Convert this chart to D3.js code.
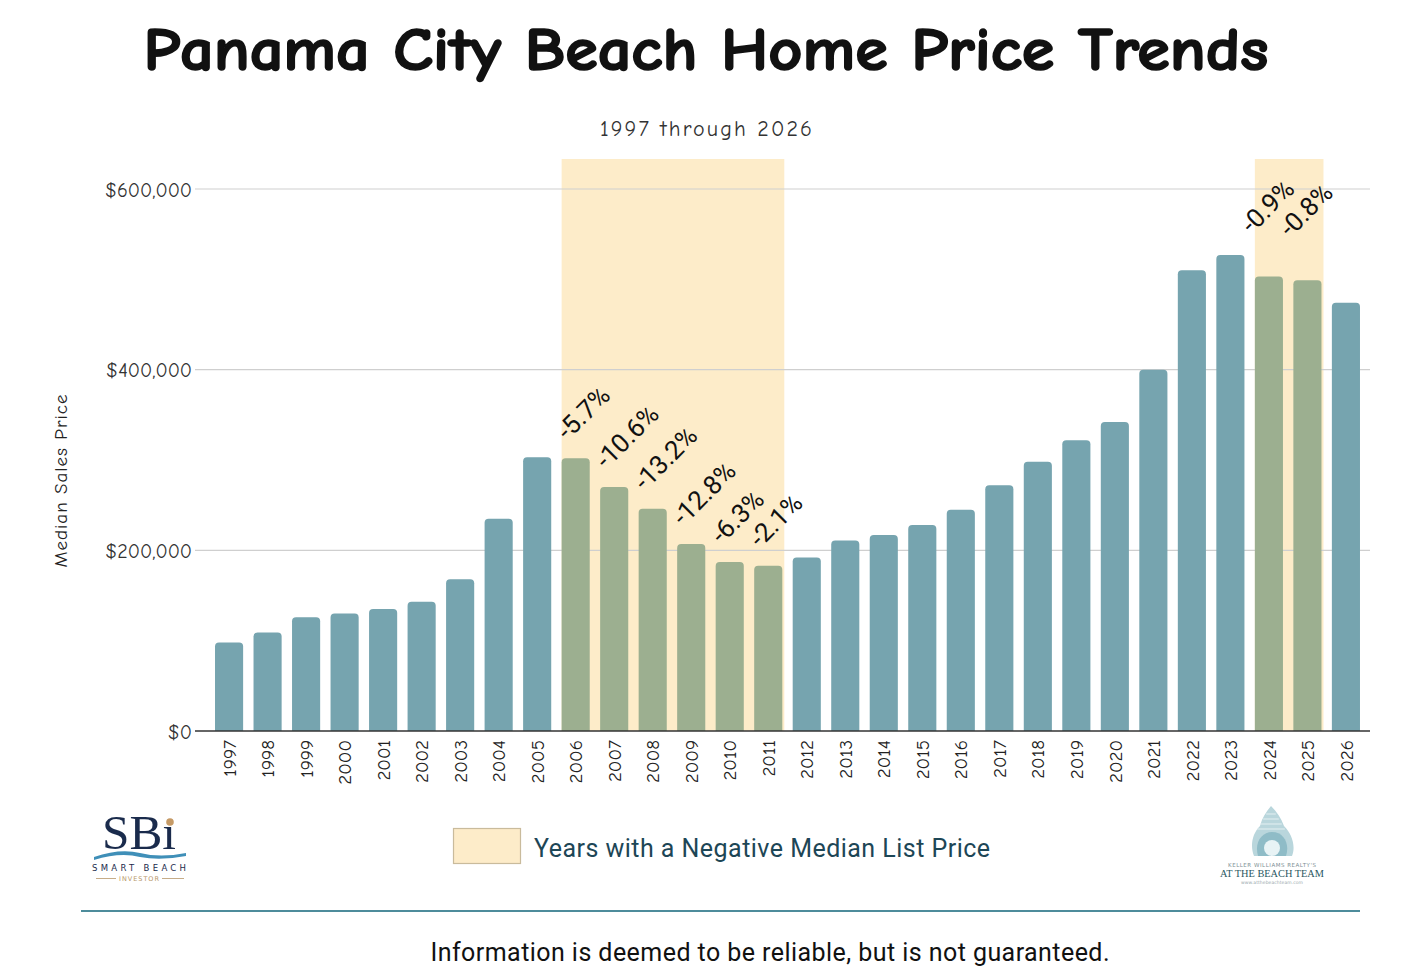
<!DOCTYPE html>
<html>
<head>
<meta charset="utf-8">
<script src="https://cdn.jsdelivr.net/npm/d3@7/dist/d3.min.js"></script>
<style>
  html, body { margin: 0; padding: 0; background: #fff; }
  svg { display: block; }
</style>
</head>
<body>
<svg id="chart" width="1414" height="977"></svg>
<script>
// data
const years = ["1997","1998","1999","2000","2001","2002","2003","2004","2005","2006",
  "2007","2008","2009","2010","2011","2012","2013","2014","2015","2016",
  "2017","2018","2019","2020","2021","2022","2023","2024","2025","2026"];
const prices = [98000,109000,126000,130000,135000,143000,168000,235000,303000,302000,
  270000,246000,207000,187000,183000,192000,211000,217000,228000,245000,
  272000,298000,322000,342000,400000,510000,527000,503000,499000,474000];
const negativeYears = ["2006","2007","2008","2009","2010","2011","2024","2025"];
const changeLabels = ["-5.7%","-10.6%","-13.2%","-12.8%","-6.3%","-2.1%","-0.9%","-0.8%"];
const yTicks = [0, 200000, 400000, 600000];

const svg = d3.select("#chart");
const handFont = "'Comic Sans MS','Comic Neue','DejaVu Sans Condensed','DejaVu Sans',sans-serif";
const tealBar = "#76a4af",
  greenBar = "#9caf90",
  shade = "#fdecc9";

const x = d3.scaleBand().domain(years).range([205, 1370]).paddingInner(0.27).paddingOuter(0.26);
const y = d3.scaleLinear().domain([0, 600000]).range([731, 189]);

// title + subtitle
svg.append("text")
  .attr("x", 706).attr("y", 70)
  .attr("text-anchor", "middle")
  .attr("font-family", handFont)
  .attr("font-weight", "bold")
  .attr("font-size", 60)
  .attr("textLength", 1125)
  .attr("lengthAdjust", "spacingAndGlyphs")
  .attr("fill", "#111")
  .attr("stroke", "#111")
  .attr("stroke-width", 1.6)
  .text("Panama City Beach Home Price Trends");

svg.append("text")
  .attr("x", 706).attr("y", 136)
  .attr("text-anchor", "middle")
  .attr("font-family", handFont)
  .attr("font-size", 22)
  .attr("textLength", 212)
  .attr("fill", "#333")
  .text("1997 through 2026");

// shaded spans for runs of negative years
let spans = [];
negativeYears.forEach(function(yr){
  let i = years.indexOf(yr), last = spans[spans.length - 1];
  if (last && last.end === i - 1) last.end = i;
  else spans.push({start: i, end: i});
});
svg.append("g").selectAll("rect")
  .data(spans)
  .join("rect")
  .attr("x", d => x(years[d.start]))
  .attr("width", d => x(years[d.end]) + x.bandwidth() + 2 - x(years[d.start]))
  .attr("y", 159)
  .attr("height", d => y(0) - 159)
  .attr("fill", shade);

// gridlines + y labels
const grid = svg.append("g");
grid.selectAll("line")
  .data(yTicks.filter(t => t > 0))
  .join("line")
  .attr("x1", 195).attr("x2", 1370)
  .attr("y1", d => y(d)).attr("y2", d => y(d))
  .attr("stroke", "#cfcfcf").attr("stroke-width", 1.2);

const yAxis = svg.append("g")
  .attr("transform", "translate(192,0)")
  .call(d3.axisLeft(y).tickValues(yTicks).tickSize(0).tickPadding(0)
    .tickFormat(d => "$" + d3.format(",")(d)));
yAxis.select(".domain").remove();
yAxis.selectAll("text")
  .attr("font-family", handFont)
  .attr("font-size", 20)
  .attr("fill", "#333")
  .attr("dy", "0.35em");

svg.append("text")
  .attr("transform", "translate(67,481) rotate(-90)")
  .attr("text-anchor", "middle")
  .attr("font-family", handFont)
  .attr("font-size", 19)
  .attr("textLength", 173)
  .attr("fill", "#222")
  .text("Median Sales Price");

// bars with rounded tops
function barPath(d, i){
  let x0 = x(years[i]), w = x.bandwidth(), top = y(d), base = y(0), r = 4;
  return "M" + x0 + "," + base + "V" + (top + r) +
    "Q" + x0 + "," + top + " " + (x0 + r) + "," + top +
    "H" + (x0 + w - r) +
    "Q" + (x0 + w) + "," + top + " " + (x0 + w) + "," + (top + r) +
    "V" + base + "Z";
}
svg.append("g").selectAll("path")
  .data(prices)
  .join("path")
  .attr("d", barPath)
  .attr("fill", (d, i) => negativeYears.includes(years[i]) ? greenBar : tealBar);

// baseline + year labels
svg.append("line")
  .attr("x1", 195).attr("x2", 1370)
  .attr("y1", y(0)).attr("y2", y(0))
  .attr("stroke", "#333").attr("stroke-width", 1.5);

const xAxis = svg.append("g")
  .attr("transform", "translate(0," + y(0) + ")")
  .call(d3.axisBottom(x).tickSize(0).tickPadding(0));
xAxis.select(".domain").remove();
xAxis.selectAll("text")
  .attr("font-family", handFont)
  .attr("font-size", 19)
  .attr("fill", "#222")
  .attr("text-anchor", "end")
  .attr("dy", "0.35em")
  .attr("transform", "translate(0,9) rotate(-90)");

// percent change labels, lifted a bit more over the later run
const labelLift = [17, 42], labelShift = [6, -3];
svg.append("g").selectAll("text")
  .data(negativeYears)
  .join("text")
  .attr("transform", function(yr, k){
    let i = years.indexOf(yr),
      s = spans.findIndex(sp => i >= sp.start && i <= sp.end);
    return "translate(" + (x(yr) + labelShift[s]) + "," + (y(prices[i]) - labelLift[s]) + ") rotate(-45)";
  })
  .attr("font-family", "Roboto, 'Open Sans', sans-serif")
  .attr("font-size", 26)
  .attr("fill", "#111")
  .text((yr, k) => changeLabels[k]);

// legend
svg.append("rect")
  .attr("x", 453.5).attr("y", 828.5).attr("width", 67).attr("height", 35)
  .attr("fill", shade).attr("stroke", "#c9bb9c").attr("stroke-width", 1.2);
svg.append("text")
  .attr("x", 534).attr("y", 857)
  .attr("font-family", "Roboto, sans-serif")
  .attr("font-size", 25)
  .attr("textLength", 456)
  .attr("fill", "#1d4656")
  .text("Years with a Negative Median List Price");

// left logo (SBi)
const sbi = svg.append("g");
sbi.append("text")
  .attr("x", 139).attr("y", 849)
  .attr("text-anchor", "middle")
  .attr("font-family", "'Liberation Serif','DejaVu Serif',serif")
  .attr("font-size", 48)
  .attr("textLength", 74)
  .attr("lengthAdjust", "spacingAndGlyphs")
  .attr("fill", "#1a2b4c")
  .text("SBı");
sbi.append("circle").attr("cx", 170).attr("cy", 822).attr("r", 3.8).attr("fill", "#c59a66");
sbi.append("path")
  .attr("d", "M94,857 Q120,848 140,853 Q160,858 186,853 L186,856 Q160,861 140,857 Q120,852 94,860 Z")
  .attr("fill", "#3f8fb8");
sbi.append("text")
  .attr("x", 139).attr("y", 871)
  .attr("text-anchor", "middle")
  .attr("font-family", "'DejaVu Sans',sans-serif")
  .attr("font-size", 8.5)
  .attr("textLength", 94)
  .attr("fill", "#1a2b4c")
  .text("SMART BEACH");
sbi.append("text")
  .attr("x", 139).attr("y", 881)
  .attr("text-anchor", "middle")
  .attr("font-family", "'DejaVu Sans',sans-serif")
  .attr("font-size", 6.5)
  .attr("textLength", 40)
  .attr("fill", "#b8976a")
  .text("INVESTOR");
sbi.selectAll("line.dash")
  .data([[96, 116], [162, 184]])
  .join("line")
  .attr("x1", d => d[0]).attr("x2", d => d[1])
  .attr("y1", 878.5).attr("y2", 878.5)
  .attr("stroke", "#b8976a").attr("stroke-width", 0.8);

// right logo (shell + team name)
const kw = svg.append("g");
const shell = kw.append("g").attr("fill", "#b9d6dc");
shell.append("path")
  .attr("d", "M1271,806 C1266,812 1262,818 1260,826 C1252,834 1250,846 1254,856 L1292,856 C1296,846 1292,834 1284,826 C1281,818 1277,812 1271,806 Z");
shell.append("path")
  .attr("d", "M1258,856 C1254,842 1262,832 1272,832 C1284,832 1290,844 1286,856 Z")
  .attr("fill", "#8fbcc7");
shell.append("ellipse").attr("cx", 1272).attr("cy", 848).attr("rx", 8).attr("ry", 8).attr("fill", "#e8f3f5");
shell.selectAll("line")
  .data([814, 819, 824, 829])
  .join("line")
  .attr("x1", d => 1271 - (d - 806) * 0.6).attr("x2", d => 1271 + (d - 806) * 0.6)
  .attr("y1", d => d).attr("y2", d => d)
  .attr("stroke", "#e4f0f2").attr("stroke-width", 1);
kw.append("text")
  .attr("x", 1272).attr("y", 867)
  .attr("text-anchor", "middle")
  .attr("font-family", "'DejaVu Sans',sans-serif")
  .attr("font-size", 5.5)
  .attr("textLength", 88)
  .attr("fill", "#7d8f94")
  .text("KELLER WILLIAMS REALTY'S");
kw.append("text")
  .attr("x", 1272).attr("y", 877)
  .attr("text-anchor", "middle")
  .attr("font-family", "'Liberation Serif','DejaVu Serif',serif")
  .attr("font-size", 11)
  .attr("textLength", 104)
  .attr("lengthAdjust", "spacingAndGlyphs")
  .attr("fill", "#2a5862")
  .text("AT THE BEACH TEAM");
kw.append("text")
  .attr("x", 1272).attr("y", 884)
  .attr("text-anchor", "middle")
  .attr("font-family", "'DejaVu Sans',sans-serif")
  .attr("font-size", 4.5)
  .attr("textLength", 62)
  .attr("fill", "#9aa9ad")
  .text("www.atthebeachteam.com");

// footer
svg.append("line")
  .attr("x1", 81).attr("x2", 1360)
  .attr("y1", 911).attr("y2", 911)
  .attr("stroke", "#4d8c9b").attr("stroke-width", 2);
svg.append("text")
  .attr("x", 770).attr("y", 961)
  .attr("text-anchor", "middle")
  .attr("font-family", "Roboto, sans-serif")
  .attr("font-size", 25)
  .attr("textLength", 679)
  .attr("fill", "#111")
  .text("Information is deemed to be reliable, but is not guaranteed.");
</script>
</body>
</html>
